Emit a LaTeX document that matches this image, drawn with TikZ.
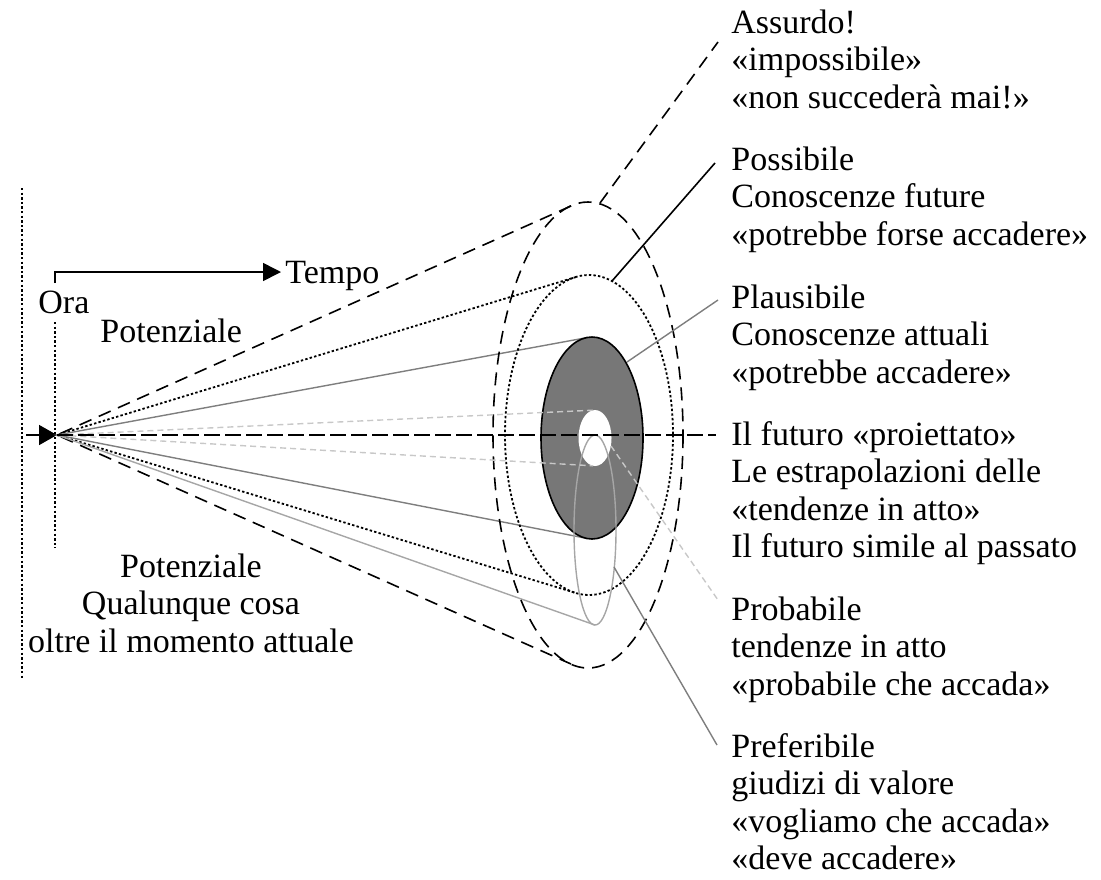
\documentclass[tikz,border=0pt]{standalone}
\usepackage{fontspec}
\setmainfont{Liberation Serif}
\usetikzlibrary{arrows.meta}
\definecolor{plausgray}{HTML}{7E7E7E}
\definecolor{prefgray}{HTML}{A6A6A6}
\definecolor{probgray}{HTML}{C8C8C8}
\definecolor{fillgray}{HTML}{777777}
\begin{document}
\begin{tikzpicture}[x=0.5pt,y=-0.5pt,
  lbl/.style={font=\fontsize{17}{18.65}\selectfont, inner sep=0pt},
  grp/.style={lbl, align=left, anchor=north west},
  bigdash/.style={line width=0.8pt, dash pattern=on 6.5pt off 4pt},
  dotline/.style={line width=0.9pt, dash pattern=on 1.2pt off 1.1pt},
  plaus/.style={line width=0.7pt, draw=plausgray},
  pref/.style={line width=0.7pt, draw=prefgray},
  prob/.style={line width=0.7pt, draw=probgray, dash pattern=on 3pt off 2pt},
  centerline/.style={line width=0.8pt, dash pattern=on 8pt off 2.5pt},
  tip/.style={-{Triangle[length=9pt,width=10pt]}}
]
\useasboundingbox (0,0) rectangle (1101,879);

% key points
\coordinate (apex) at (57,435);
\coordinate (arrstart) at (26,435);
\coordinate (leftTop) at (22,188);
\coordinate (leftBot) at (22,680);
\coordinate (oraTop) at (55,322);
\coordinate (oraBot) at (55,548);
\coordinate (orabr) at (55,283);
\coordinate (tArr) at (281,272);

% tangent points
\coordinate (aT) at (571,206); \coordinate (aB) at (571,664);
\coordinate (pT) at (576,277); \coordinate (pB) at (576,593);
\coordinate (lT) at (587,337.6); \coordinate (lB) at (587,538.4);
\coordinate (rT) at (593,410.2); \coordinate (rB) at (593,465.8);
\coordinate (fB) at (595,625);

% leader ends
\coordinate (aS) at (600,203); \coordinate (aE) at (718,42);
\coordinate (pS) at (612,281); \coordinate (pE) at (715,163);
\coordinate (lS) at (627,362); \coordinate (lE) at (718,300);
\coordinate (cE) at (716,435);
\coordinate (rS) at (611,446); \coordinate (rE) at (718,600);
\coordinate (fS) at (614,567); \coordinate (fE) at (717,745);

% verticals
\draw[dotline] (leftTop) -- (leftBot);
\draw[dotline, line width=0.8pt] (oraTop) -- (oraBot);
\draw[line width=0.8pt, -{Triangle[length=9pt,width=9pt]}] (orabr) |- (tArr);
\draw[line width=0.8pt, tip] (arrstart) -- (apex);

% cone lines
\draw[bigdash] (aT) -- (apex) -- (aB);
\draw[dotline] (pT) -- (apex) -- (pB);
\draw[plaus] (lT) -- (apex) -- (lB);
\draw[pref] (apex) -- (fB);

% ellipses
\draw[bigdash] (588,435) ellipse [x radius=95, y radius=233];
\draw[dotline] (589,435) ellipse [x radius=84, y radius=160];
\draw[line width=0.8pt, fill=fillgray] (592,438) ellipse [x radius=51, y radius=101];
\fill[white] (595,438) ellipse [x radius=16.5, y radius=28];
\draw[pref] (595,530) ellipse [x radius=21, y radius=95];

% probable lines
\draw[prob] (rT) -- (apex) -- (rB);

% center line
\draw[centerline] (apex) -- (cE);

% leaders
\draw[bigdash] (aS) -- (aE);
\draw[line width=0.8pt] (pS) -- (pE);
\draw[plaus] (lS) -- (lE);
\draw[prob] (rS) -- (rE);
\draw[plaus] (fS) -- (fE);

% labels
\node[lbl, anchor=base west] (ora) at (38,313) {Ora};
\node[lbl, anchor=base west] (pot1) at (100,342) {Potenziale};
\node[lbl, anchor=base west] (tempo) at (285,283) {Tempo};

\node[grp] (assurdo) at (731,6.9) {\strut Assurdo!\\«impossibile»\\«non succederà mai!»};
\node[grp] (possibile) at (731,143.9) {\strut Possibile\\Conoscenze future\\«potrebbe forse accadere»};
\node[grp] (plausibile) at (731,281.9) {\strut Plausibile\\Conoscenze attuali\\«potrebbe accadere»};
\node[grp] (futuro) at (731,418.9) {\strut Il futuro «proiettato»\\Le estrapolazioni delle\\«tendenze in atto»\\Il futuro simile al passato};
\node[grp] (probabile) at (731,593.9) {\strut Probabile\\tendenze in atto\\«probabile che accada»};
\node[grp] (preferibile) at (731,730.9) {\strut Preferibile\\giudizi di valore\\«vogliamo che accada»\\«deve accadere»};

\node[lbl, align=center, anchor=north] (pot2) at (191,550.9) {\strut Potenziale\\Qualunque cosa\\oltre il momento attuale};
\end{tikzpicture}
\end{document}
